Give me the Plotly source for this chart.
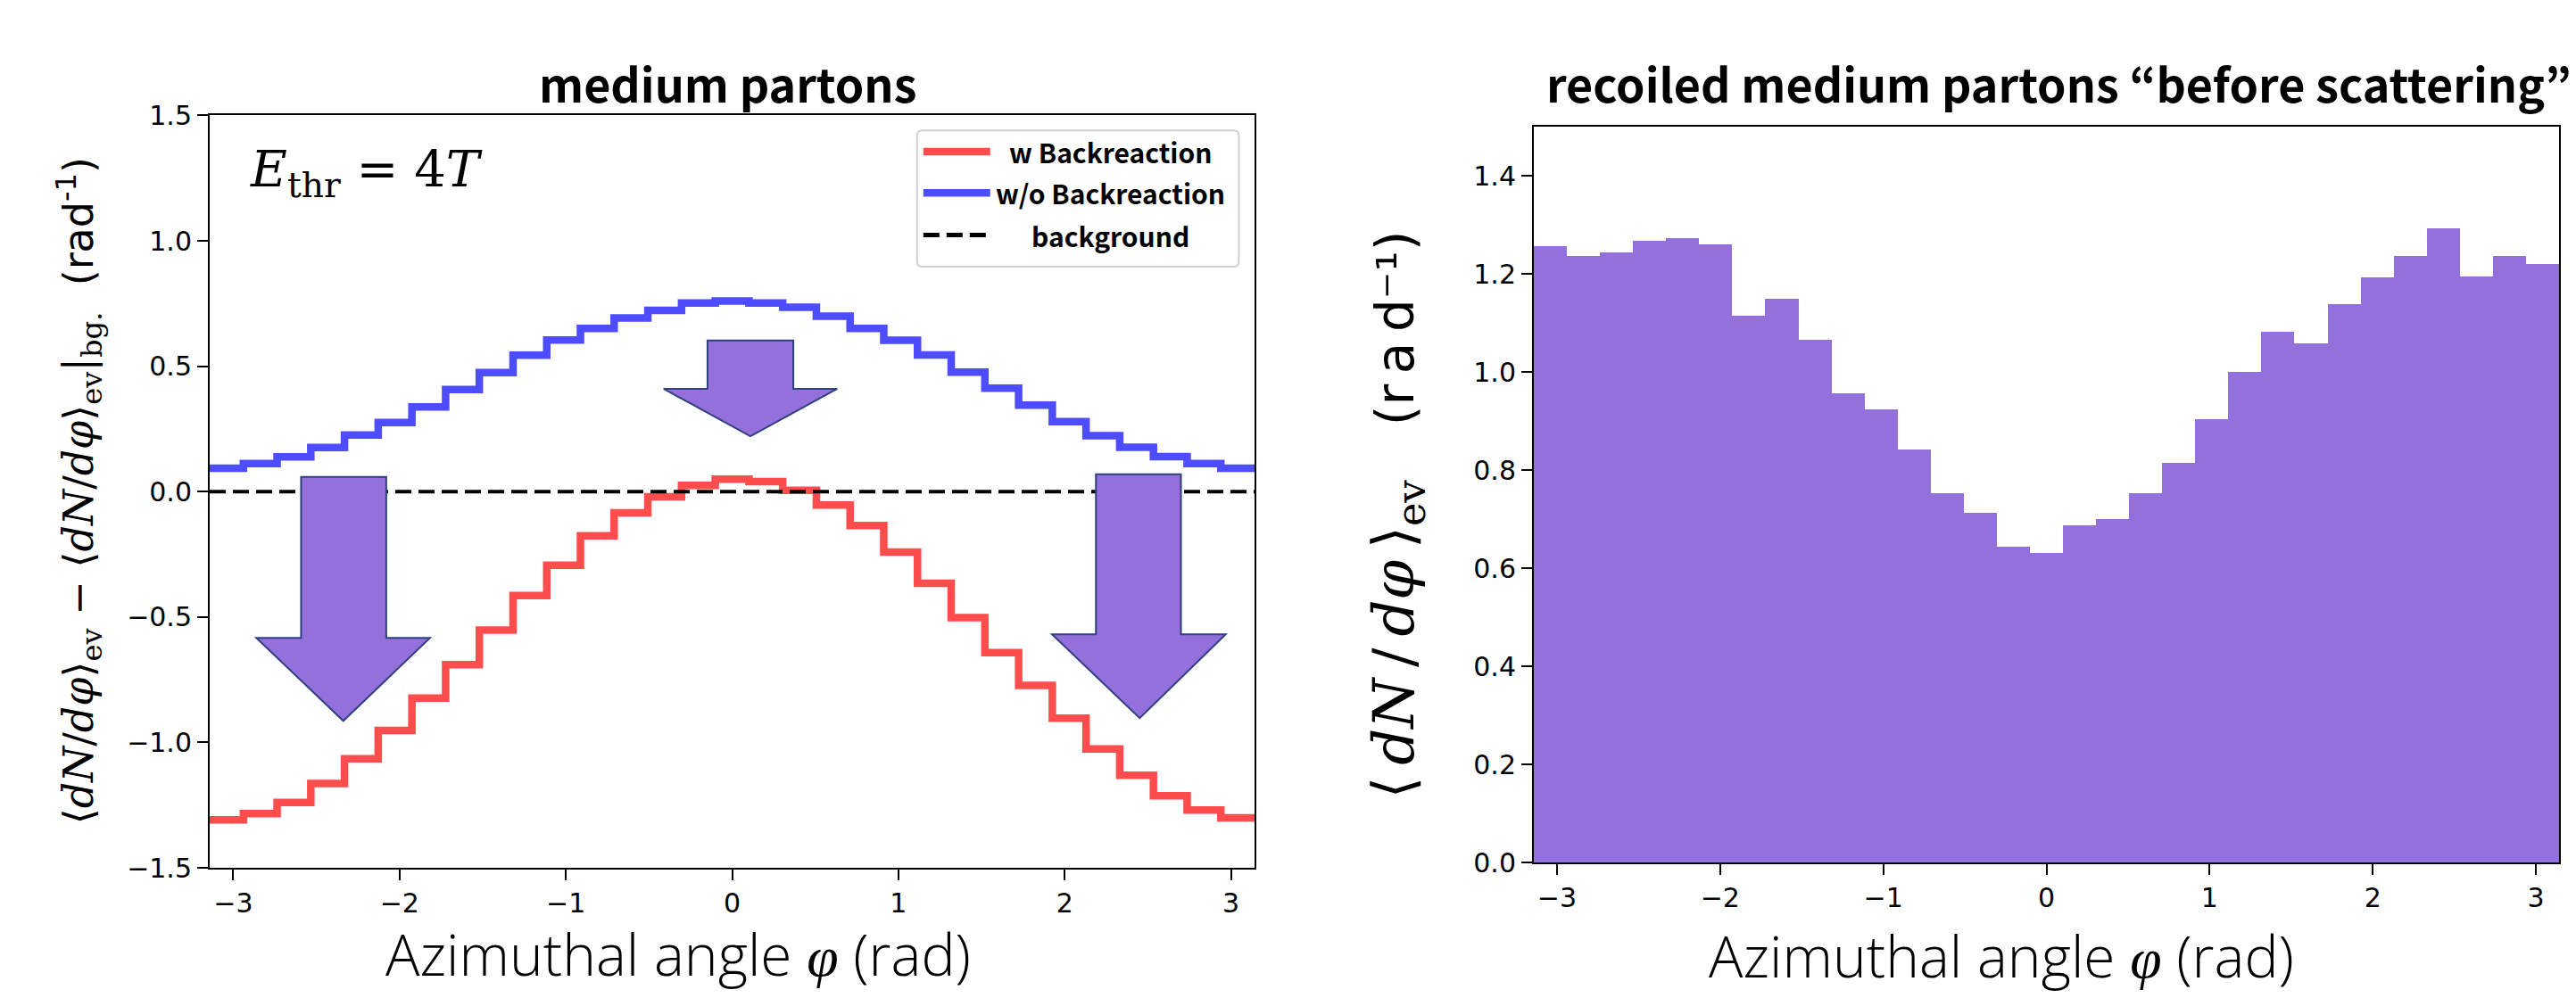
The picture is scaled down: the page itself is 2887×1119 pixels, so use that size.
import numpy as np
import plotly.graph_objects as go

# ---------------- data ----------------
phi_min, phi_max = -np.pi, np.pi
n_bins = 31

x_tick_vals = [-3, -2, -1, 0, 1, 2, 3]
x_tick_text = ["\u22123", "\u22122", "\u22121", "0", "1", "2", "3"]
y1_tick_vals = [-1.5, -1.0, -0.5, 0.0, 0.5, 1.0, 1.5]
y1_tick_text = ["\u22121.5", "\u22121.0", "\u22120.5", "0.0", "0.5", "1.0", "1.5"]
y2_tick_vals = [0.0, 0.2, 0.4, 0.6, 0.8, 1.0, 1.2, 1.4]
y2_tick_text = ["0.0", "0.2", "0.4", "0.6", "0.8", "1.0", "1.2", "1.4"]

w_backreaction = [-1.309, -1.284, -1.239, -1.164, -1.065, -0.952, -0.823, -0.690,
                  -0.552, -0.414, -0.293, -0.176, -0.084, -0.020, 0.025, 0.050,
                  0.040, 0.005, -0.053, -0.135, -0.241, -0.365, -0.502, -0.642,
                  -0.773, -0.903, -1.026, -1.131, -1.213, -1.270, -1.301]
wo_backreaction = [0.093, 0.112, 0.139, 0.176, 0.226, 0.276, 0.338, 0.407,
                   0.475, 0.544, 0.605, 0.651, 0.693, 0.723, 0.752, 0.760,
                   0.752, 0.735, 0.700, 0.651, 0.604, 0.545, 0.477, 0.413,
                   0.345, 0.279, 0.223, 0.177, 0.140, 0.112, 0.093]
background_level = [0.0, 0.0]
recoiled_before = [1.256, 1.236, 1.244, 1.268, 1.272, 1.260, 1.114, 1.150,
                   1.066, 0.956, 0.923, 0.842, 0.753, 0.712, 0.643, 0.631,
                   0.688, 0.700, 0.753, 0.815, 0.904, 1.000, 1.081, 1.058,
                   1.139, 1.192, 1.236, 1.292, 1.195, 1.236, 1.220]

# ---------------- helpers ----------------
W, H = 2887, 1119


def px(x):
    return x / W


def py(y):
    return 1 - y / H


edges = np.linspace(phi_min, phi_max, n_bins + 1)
centers = 0.5 * (edges[:-1] + edges[1:])
bin_w = edges[1] - edges[0]


def step_xy(vals):
    return list(edges), list(vals) + [vals[-1]]


RED = "rgb(255,77,77)"
BLUE = "rgb(77,77,255)"
PURPLE = "#9370DB"
MATH = "DejaVu Serif"
SANS_JP = "Noto Sans CJK JP"
DASH = "18px,8px"

fig = go.Figure()

xs, ys = step_xy(wo_backreaction)
fig.add_trace(go.Scatter(x=xs, y=ys, mode="lines", name="w/o Backreaction",
                         line=dict(shape="hv", color=BLUE, width=8.5),
                         xaxis="x", yaxis="y"))
xs, ys = step_xy(w_backreaction)
fig.add_trace(go.Scatter(x=xs, y=ys, mode="lines", name="w Backreaction",
                         line=dict(shape="hv", color=RED, width=8.5),
                         xaxis="x", yaxis="y"))
fig.add_trace(go.Scatter(x=[phi_min, phi_max], y=background_level, mode="lines",
                         name="background",
                         line=dict(color="black", dash=DASH, width=4),
                         xaxis="x", yaxis="y"))
fig.add_trace(go.Bar(x=centers, y=recoiled_before, width=bin_w,
                     marker=dict(color=PURPLE, line=dict(width=0)),
                     name="recoiled before scattering",
                     xaxis="x2", yaxis="y2"))

axis_common = dict(showline=True, mirror=True, linecolor="black", linewidth=2,
                   ticks="outside", ticklen=12, tickwidth=2, tickcolor="black",
                   showgrid=False, zeroline=False,
                   tickfont=dict(family="DejaVu Sans", size=30, color="black"))

fig.update_layout(
    width=W, height=H, margin=dict(l=0, r=0, t=0, b=0),
    paper_bgcolor="white", plot_bgcolor="white",
    showlegend=False, bargap=0,
    xaxis=dict(domain=[px(235), px(1406)], range=[phi_min, phi_max], anchor="y",
               tickvals=x_tick_vals, ticktext=x_tick_text, **axis_common),
    yaxis=dict(domain=[py(986), py(116)], range=[-1.5, 1.5], anchor="x",
               tickvals=y1_tick_vals, ticktext=y1_tick_text, **axis_common),
    xaxis2=dict(domain=[px(1719), px(2868)], range=[phi_min, phi_max], anchor="y2",
                tickvals=x_tick_vals, ticktext=x_tick_text, **axis_common),
    yaxis2=dict(domain=[py(980), py(129)], range=[0, 1.5], anchor="x2",
                tickvals=y2_tick_vals, ticktext=y2_tick_text, **axis_common),
)

# ---------------- arrows (decoration) ----------------
def arrow_path(sx0, sx1, top, hy, hx0, hx1, tx, ty):
    return (f"M{sx0},{top} L{sx1},{top} L{sx1},{hy} L{hx1},{hy} "
            f"L{tx},{ty} L{hx0},{hy} L{sx0},{hy} Z")


for a in [(-0.148, 0.368, 0.603, 0.41, -0.412, 0.632, 0.110, 0.221),
          (-2.592, -2.080, 0.059, -0.583, -2.861, -1.817, -2.338, -0.914),
          (2.188, 2.699, 0.069, -0.569, 1.924, 2.968, 2.451, -0.903)]:
    fig.add_shape(type="path", path=arrow_path(*a), xref="x", yref="y",
                  fillcolor=PURPLE, line=dict(color="#2F3F7F", width=2),
                  layer="above")

# ---------------- manual legend ----------------
lx0, lx1, ly0, ly1 = 0.677, 0.985, 0.799, 0.980
rx, ry = 0.005, 0.007
fig.add_shape(type="path", xref="x domain", yref="y domain",
              path=(f"M{lx0+rx},{ly0} L{lx1-rx},{ly0} Q{lx1},{ly0} {lx1},{ly0+ry} "
                    f"L{lx1},{ly1-ry} Q{lx1},{ly1} {lx1-rx},{ly1} "
                    f"L{lx0+rx},{ly1} Q{lx0},{ly1} {lx0},{ly1-ry} "
                    f"L{lx0},{ly0+ry} Q{lx0},{ly0} {lx0+rx},{ly0} Z"),
              fillcolor="white", line=dict(color="#d0d0d0", width=2), layer="above")
legend_items = [("w Backreaction", RED, "solid", 8.5, 0.952),
                ("w/o Backreaction", BLUE, "solid", 8.5, 0.897),
                ("background", "black", DASH, 5, 0.841)]
for label, col, dash, lw, yy in legend_items:
    fig.add_shape(type="line", xref="x domain", yref="y domain",
                  x0=0.683, x1=0.747, y0=yy, y1=yy,
                  line=dict(color=col, width=lw, dash=dash), layer="above")
    fig.add_annotation(text=f"<b>{label}</b>", xref="x domain", yref="y domain",
                       x=0.8625, y=yy, xanchor="center", yanchor="middle",
                       showarrow=False,
                       font=dict(family=SANS_JP, size=30, color="black"))

# ---------------- texts ----------------
fig.add_annotation(text="<b>medium partons</b>", xref="paper", yref="paper",
                   x=px(815), y=py(78), xanchor="center", yanchor="middle",
                   showarrow=False, font=dict(family=SANS_JP, size=52, color="black"))
fig.add_annotation(text="<b>recoiled medium partons \u201cbefore scattering\u201d</b>",
                   xref="paper", yref="paper",
                   x=px(2307), y=py(78), xanchor="center", yanchor="middle",
                   showarrow=False, font=dict(family=SANS_JP, size=52, color="black"))

fig.add_annotation(text="<i>E</i><sub>thr</sub> = 4<i>T</i>", xref="paper", yref="paper",
                   x=px(278), y=py(182), xanchor="left", yanchor="middle",
                   showarrow=False, font=dict(family=MATH, size=56, color="black"))

fig.add_annotation(
    text=("\u27e8<i>dN</i>/<i>d\u03c6</i>\u27e9<sub>ev</sub> \u2212 "
          "\u27e8<i>dN</i>/<i>d\u03c6</i>\u27e9<sub>ev</sub>|<sub>bg.</sub>  "
          "<span style='font-family:DejaVu Sans;'>(rad<sup>-1</sup>)</span>"),
    xref="paper", yref="paper", x=px(88), y=py(550), xanchor="center", yanchor="middle",
    textangle=-90, showarrow=False, font=dict(family=MATH, size=46, color="black"))
fig.add_annotation(
    text=("\u27e8\u2009<i>dN</i>\u2009/\u2009<i>d\u03c6</i>\u2009\u27e9<sub>ev</sub>   "
          "<span style='font-family:DejaVu Sans;font-size:58px;'>"
          "(r\u2009a\u2009d\u207b\u00b9)</span>"),
    xref="paper", yref="paper", x=px(1566), y=py(578), xanchor="center", yanchor="middle",
    textangle=-90, showarrow=False, font=dict(family=MATH, size=64, color="black"))

xt = ("Azimuthal angle <span style='font-family:Liberation Serif;'><i>\u03c6</i></span>"
      " (rad)")
fig.add_annotation(text=xt, xref="paper", yref="paper", x=px(760), y=py(1085),
                   xanchor="center", yanchor="middle", showarrow=False,
                   font=dict(family="Open Sans", size=64, color="black", weight=300))
fig.add_annotation(text=xt, xref="paper", yref="paper", x=px(2243), y=py(1088),
                   xanchor="center", yanchor="middle", showarrow=False,
                   font=dict(family="Open Sans", size=64, color="black", weight=300))

fig.write_html("out.html")
